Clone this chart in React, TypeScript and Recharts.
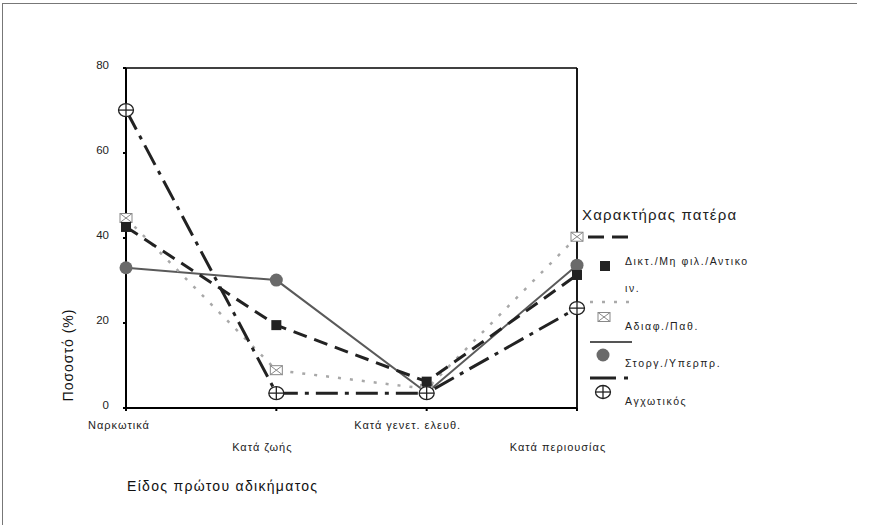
import {
  LineChart,
  Line,
  XAxis,
  YAxis,
  ReferenceLine,
} from "recharts";

const CATEGORIES = ["Ναρκωτικά", "Κατά ζωής", "Κατά γενετ. ελευθ.", "Κατά περιουσίας"];
const DIKT = [42.6, 19.5, 6.2, 31.3];
const ADIAF = [44.7, 8.9, 4.5, 40.3];
const STORG = [33.0, 30.1, 3.6, 33.6];
const AGX = [70.1, 3.5, 3.5, 23.5];
const Y_TICKS = [0, 20, 40, 60, 80];

const FONT = "'Liberation Sans', Arial, sans-serif";
// labels in the scan sit a little left of their tick marks
const TICK_DX = [-7, -14, -19, -19];

const data = CATEGORIES.map((cat, i) => ({
  cat,
  dikt: DIKT[i],
  adiaf: ADIAF[i],
  storg: STORG[i],
  agx: AGX[i],
}));

// marker shapes
function SquareDot({ cx, cy }: any) {
  return <rect x={cx - 5} y={cy - 5} width={10} height={10} fill="#222" />;
}

function EnvelopeDot({ cx, cy }: any) {
  return (
    <g stroke="#888" strokeWidth={1} fill="#fff">
      <rect x={cx - 6} y={cy - 4.5} width={12} height={9} />
      <line x1={cx - 6} y1={cy - 4.5} x2={cx + 6} y2={cy + 4.5} />
      <line x1={cx + 6} y1={cy - 4.5} x2={cx - 6} y2={cy + 4.5} />
    </g>
  );
}

function CircleDot({ cx, cy }: any) {
  return <circle cx={cx} cy={cy} r={6.5} fill="#6a6a6a" />;
}

function CrossCircleDot({ cx, cy }: any) {
  return (
    <g stroke="#222" strokeWidth={1.3} fill="#fff">
      <ellipse cx={cx} cy={cy} rx={7.5} ry={6.5} />
      <line x1={cx - 7.5} y1={cy} x2={cx + 7.5} y2={cy} />
      <line x1={cx} y1={cy - 6.5} x2={cx} y2={cy + 6.5} />
    </g>
  );
}

function CategoryTick({ x, y, payload, index }: any) {
  const dy = index % 2 === 0 ? 16 : 38;
  return (
    <text
      x={x + (TICK_DX[index] ?? 0)}
      y={y + dy}
      textAnchor="middle"
      fontSize={11}
      letterSpacing={1}
      fill="#222"
      fontFamily={FONT}
    >
      {payload.value}
    </text>
  );
}

function ValueTick({ x, y, payload }: any) {
  return (
    <text x={x} y={y - 3} dy={4} textAnchor="end" fontSize={11.5} fill="#222" fontFamily={FONT}>
      {payload.value}
    </text>
  );
}

function LegendBox() {
  const txt = { fontSize: 10.5, letterSpacing: 1.6 };
  return (
    <svg width={220} height={215} style={{ display: "block" }}>
      <g fontFamily={FONT} fill="#222">
        <text x={7} y={20} fontSize={15} letterSpacing={1.2}>Χαρακτήρας πατέρα</text>

        <line x1={13} y1={37} x2={57} y2={37} stroke="#222" strokeWidth={3} strokeDasharray="16 8" />
        <SquareDot cx={30} cy={66} />
        <text x={50} y={65} {...txt}>Δικτ./Μη φιλ./Αντικο</text>
        <text x={50} y={92} {...txt}>ιν.</text>

        <line x1={15} y1={102} x2={57} y2={102} stroke="#aaa" strokeWidth={2.5} strokeDasharray="3 9" />
        <EnvelopeDot cx={29} cy={117} />
        <text x={50} y={130} {...txt}>Αδιαφ./Παθ.</text>

        <line x1={15} y1={142} x2={57} y2={142} stroke="#555" strokeWidth={2} />
        <CircleDot cx={28} cy={155} />
        <text x={50} y={167} {...txt}>Στοργ./Υπερπρ.</text>

        <line x1={15} y1={178} x2={57} y2={178} stroke="#222" strokeWidth={3} strokeDasharray="26 8 4 20" />
        <CrossCircleDot cx={28} cy={192} />
        <text x={50} y={205} {...txt}>Αγχωτικός</text>
      </g>
    </svg>
  );
}

export default function App() {
  return (
    <div
      style={{
        position: "absolute",
        left: 0,
        top: 0,
        width: 877,
        height: 525,
        background: "#fff",
        overflow: "hidden",
      }}
    >
      {/* scanned page frame */}
      <div
        style={{
          position: "absolute",
          left: 2,
          top: 3,
          width: 854,
          height: 530,
          borderTop: "1.5px solid #777",
          borderLeft: "1.5px solid #777",
        }}
      />

      <LineChart
        width={877}
        height={525}
        data={data}
        margin={{ top: 68, right: 300, left: 0, bottom: 0 }}
      >
        <XAxis
          dataKey="cat"
          type="category"
          interval={0}
          padding={{ left: 0, right: 0 }}
          axisLine={{ stroke: "#000", strokeWidth: 2 }}
          tickLine={{ stroke: "#000", strokeWidth: 2 }}
          tickSize={3}
          tick={<CategoryTick />}
          height={117}
        />
        <YAxis
          domain={[0, 80]}
          ticks={Y_TICKS}
          axisLine={{ stroke: "#000", strokeWidth: 2 }}
          tickLine={{ stroke: "#000", strokeWidth: 2 }}
          tickSize={3}
          tickMargin={14}
          width={126}
          tick={<ValueTick />}
        />
        <ReferenceLine y={80} stroke="#000" strokeWidth={1.5} />
        <ReferenceLine x="Κατά περιουσίας" stroke="#000" strokeWidth={1.8} />

        <Line
          dataKey="storg"
          stroke="#5a5a5a"
          strokeWidth={2}
          dot={<CircleDot />}
          activeDot={false}
          isAnimationActive={false}
        />
        <Line
          dataKey="adiaf"
          stroke="#a8a8a8"
          strokeWidth={2.5}
          strokeDasharray="3 9"
          dot={<EnvelopeDot />}
          activeDot={false}
          isAnimationActive={false}
        />
        <Line
          dataKey="dikt"
          stroke="#222"
          strokeWidth={3}
          strokeDasharray="14 8"
          dot={<SquareDot />}
          activeDot={false}
          isAnimationActive={false}
        />
        <Line
          dataKey="agx"
          stroke="#222"
          strokeWidth={3}
          strokeDasharray="22 7 4 7"
          dot={<CrossCircleDot />}
          activeDot={false}
          isAnimationActive={false}
        />
      </LineChart>

      {/* legend */}
      <div style={{ position: "absolute", left: 575, top: 200 }}>
        <LegendBox />
      </div>

      {/* axis titles */}
      <div
        style={{
          position: "absolute",
          left: 68,
          top: 355,
          transform: "translate(-50%, -50%) rotate(-90deg)",
          fontFamily: FONT,
          fontSize: 14,
          letterSpacing: 1,
          color: "#111",
          whiteSpace: "nowrap",
        }}
      >
        Ποσοστό (%)
      </div>
      <div
        style={{
          position: "absolute",
          left: 127,
          top: 478,
          fontFamily: FONT,
          fontSize: 14,
          letterSpacing: 1.3,
          color: "#111",
          whiteSpace: "nowrap",
        }}
      >
        Είδος πρώτου αδικήματος
      </div>
    </div>
  );
}
